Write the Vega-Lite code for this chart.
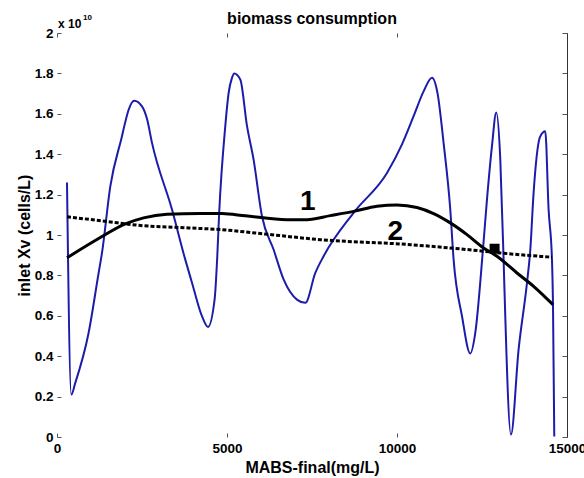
{
  "$schema": "https://vega.github.io/schema/vega-lite/v6.json",
  "width": 510,
  "height": 404,
  "autosize": "none",
  "padding": {"left": 57, "top": 33, "right": 17, "bottom": 41},
  "background": "white",
  "title": {
    "text": "biomass consumption",
    "font": "Liberation Sans",
    "fontSize": 16,
    "fontWeight": "bold",
    "color": "black",
    "anchor": "middle",
    "baseline": "alphabetic",
    "offset": -26
  },
  "datasets": {
    "blue": [
      {"x": 294, "y": 1.26}, {"x": 420, "y": 0.21}, {"x": 538, "y": 0.268}, {"x": 929, "y": 0.515},
      {"x": 1224, "y": 0.812}, {"x": 1323, "y": 0.911}, {"x": 1568, "y": 1.241}, {"x": 1911, "y": 1.489},
      {"x": 2009, "y": 1.56}, {"x": 2107, "y": 1.62}, {"x": 2273, "y": 1.665}, {"x": 2500, "y": 1.637},
      {"x": 2647, "y": 1.575}, {"x": 2794, "y": 1.456}, {"x": 3382, "y": 1.126}, {"x": 3773, "y": 0.878},
      {"x": 3970, "y": 0.764}, {"x": 4264, "y": 0.598}, {"x": 4441, "y": 0.545}, {"x": 4635, "y": 0.68},
      {"x": 4710, "y": 0.88}, {"x": 4770, "y": 1.11}, {"x": 4950, "y": 1.54}, {"x": 5048, "y": 1.703},
      {"x": 5146, "y": 1.778}, {"x": 5214, "y": 1.8}, {"x": 5391, "y": 1.77}, {"x": 5588, "y": 1.54},
      {"x": 5782, "y": 1.373}, {"x": 6029, "y": 1.093}, {"x": 6370, "y": 0.928}, {"x": 6665, "y": 0.78},
      {"x": 7058, "y": 0.68}, {"x": 7303, "y": 0.664}, {"x": 7597, "y": 0.812}, {"x": 7841, "y": 0.895},
      {"x": 8723, "y": 1.11}, {"x": 9705, "y": 1.307}, {"x": 10150, "y": 1.45}, {"x": 10488, "y": 1.588},
      {"x": 10782, "y": 1.711}, {"x": 11029, "y": 1.778}, {"x": 11194, "y": 1.7}, {"x": 11370, "y": 1.456},
      {"x": 11567, "y": 1.126}, {"x": 11665, "y": 0.878}, {"x": 11912, "y": 0.598}, {"x": 12155, "y": 0.413},
      {"x": 12302, "y": 0.515}, {"x": 12528, "y": 0.928}, {"x": 12646, "y": 1.175}, {"x": 12793, "y": 1.44},
      {"x": 12920, "y": 1.607}, {"x": 13038, "y": 1.374}, {"x": 13135, "y": 0.878}, {"x": 13155, "y": 0.763},
      {"x": 13352, "y": 0.012}, {"x": 13576, "y": 0.433}, {"x": 13823, "y": 0.763}, {"x": 13921, "y": 0.928},
      {"x": 14018, "y": 1.21}, {"x": 14194, "y": 1.48}, {"x": 14294, "y": 1.508}, {"x": 14361, "y": 1.513},
      {"x": 14459, "y": 1.126}, {"x": 14558, "y": 0.878}, {"x": 14588, "y": 0.655}, {"x": 14626, "y": 0.003}
    ],
    "curve1": [
      {"x": 294, "y": 0.887}, {"x": 1200, "y": 0.98}, {"x": 2009, "y": 1.055}, {"x": 2547, "y": 1.085},
      {"x": 3235, "y": 1.103}, {"x": 4215, "y": 1.107}, {"x": 4853, "y": 1.106}, {"x": 5538, "y": 1.095},
      {"x": 6764, "y": 1.076}, {"x": 7352, "y": 1.076}, {"x": 8038, "y": 1.096}, {"x": 8723, "y": 1.117},
      {"x": 9411, "y": 1.142}, {"x": 10000, "y": 1.149}, {"x": 10588, "y": 1.136}, {"x": 11076, "y": 1.106},
      {"x": 11567, "y": 1.06}, {"x": 12058, "y": 1.002}, {"x": 12546, "y": 0.936}, {"x": 12940, "y": 0.895},
      {"x": 13529, "y": 0.812}, {"x": 14018, "y": 0.746}, {"x": 14588, "y": 0.655}
    ],
    "curve2": [
      {"x": 294, "y": 1.09}, {"x": 1421, "y": 1.068}, {"x": 2401, "y": 1.048}, {"x": 3872, "y": 1.035},
      {"x": 4804, "y": 1.027}, {"x": 5832, "y": 1.01}, {"x": 7744, "y": 0.977}, {"x": 10400, "y": 0.952},
      {"x": 12058, "y": 0.928}, {"x": 13038, "y": 0.911}, {"x": 14558, "y": 0.89}
    ],
    "marker": [{"x": 12870, "y": 0.932}],
    "curveLabels": [
      {"x": 7376, "y": 1.122, "text": "1"},
      {"x": 9950, "y": 0.977, "text": "2"}
    ],
    "exponent": [{"x": 0, "y": 2, "base": "x 10", "power": "10"}]
  },
  "resolve": {"scale": {"x": "independent", "y": "independent"}},
  "layer": [
    {
      "data": {"name": "blue"},
      "mark": {"type": "line", "color": "#1c1caa", "strokeWidth": 2, "interpolate": "monotone"},
      "encoding": {
        "x": {
          "field": "x", "type": "quantitative",
          "scale": {"domain": [0, 15000], "nice": false},
          "axis": {
            "orient": "bottom", "values": [0, 5000, 10000, 15000], "format": "d",
            "domain": false, "tickSize": -4, "labelPadding": 8, "labelFlush": false, "labelOverlap": false,
            "title": "MABS-final(mg/L)", "titleBaseline": "alphabetic", "titleY": 35
          }
        },
        "y": {
          "field": "y", "type": "quantitative",
          "scale": {"domain": [0, 2], "nice": false},
          "axis": {
            "orient": "left", "values": [0, 0.2, 0.4, 0.6, 0.8, 1, 1.2, 1.4, 1.6, 1.8, 2], "format": ".1~f",
            "domain": false, "tickSize": -4, "labelPadding": 8, "labelOverlap": false,
            "title": "inlet Xv (cells/L)", "titleBaseline": "alphabetic", "titleAlign": "center",
            "titleAngle": -90, "titleX": -28, "titleY": 202
          }
        }
      }
    },
    {
      "data": {"name": "curve1"},
      "mark": {"type": "line", "color": "black", "strokeWidth": 3, "interpolate": "monotone"},
      "encoding": {
        "x": {
          "field": "x", "type": "quantitative",
          "scale": {"domain": [0, 15000], "nice": false},
          "axis": {"orient": "top", "values": [0, 5000, 10000, 15000], "labels": false, "domain": false, "tickSize": -4, "title": null}
        },
        "y": {
          "field": "y", "type": "quantitative",
          "scale": {"domain": [0, 2], "nice": false},
          "axis": {"orient": "right", "values": [0, 0.2, 0.4, 0.6, 0.8, 1, 1.2, 1.4, 1.6, 1.8, 2], "labels": false, "domain": true, "domainColor": "#333", "tickSize": -5, "title": null}
        }
      }
    },
    {
      "data": {"name": "curve2"},
      "mark": {"type": "line", "color": "black", "strokeWidth": 3, "strokeDash": [4, 2], "interpolate": "monotone"},
      "encoding": {
        "x": {"field": "x", "type": "quantitative", "scale": {"domain": [0, 15000], "nice": false}, "axis": null},
        "y": {"field": "y", "type": "quantitative", "scale": {"domain": [0, 2], "nice": false}, "axis": null}
      }
    },
    {
      "data": {"name": "marker"},
      "mark": {"type": "point", "shape": "square", "filled": true, "color": "black", "size": 100, "opacity": 1},
      "encoding": {
        "x": {"field": "x", "type": "quantitative", "scale": {"domain": [0, 15000], "nice": false}, "axis": null},
        "y": {"field": "y", "type": "quantitative", "scale": {"domain": [0, 2], "nice": false}, "axis": null}
      }
    },
    {
      "data": {"name": "curveLabels"},
      "mark": {"type": "text", "font": "Liberation Sans", "fontSize": 28, "fontWeight": "bold", "color": "black", "align": "center", "baseline": "alphabetic"},
      "encoding": {
        "x": {"field": "x", "type": "quantitative", "scale": {"domain": [0, 15000], "nice": false}, "axis": null},
        "y": {"field": "y", "type": "quantitative", "scale": {"domain": [0, 2], "nice": false}, "axis": null},
        "text": {"field": "text"}
      }
    },
    {
      "data": {"name": "exponent"},
      "mark": {"type": "text", "font": "Liberation Sans", "fontSize": 12, "fontWeight": "bold", "color": "black", "align": "left", "baseline": "alphabetic", "dx": 1, "dy": -5},
      "encoding": {
        "x": {"field": "x", "type": "quantitative", "scale": {"domain": [0, 15000], "nice": false}, "axis": null},
        "y": {"field": "y", "type": "quantitative", "scale": {"domain": [0, 2], "nice": false}, "axis": null},
        "text": {"field": "base"}
      }
    },
    {
      "data": {"name": "exponent"},
      "mark": {"type": "text", "font": "Liberation Sans", "fontSize": 8, "fontWeight": "bold", "color": "black", "align": "left", "baseline": "alphabetic", "dx": 26, "dy": -13},
      "encoding": {
        "x": {"field": "x", "type": "quantitative", "scale": {"domain": [0, 15000], "nice": false}, "axis": null},
        "y": {"field": "y", "type": "quantitative", "scale": {"domain": [0, 2], "nice": false}, "axis": null},
        "text": {"field": "power"}
      }
    }
  ],
  "config": {
    "view": {"stroke": null},
    "axis": {
      "grid": false,
      "labelFont": "Liberation Sans",
      "labelFontSize": 13.5,
      "labelFontWeight": "bold",
      "labelColor": "black",
      "titleFont": "Liberation Sans",
      "titleFontSize": 16,
      "titleFontWeight": "bold",
      "titleColor": "black",
      "tickColor": "#555",
      "tickWidth": 1
    }
  }
}
